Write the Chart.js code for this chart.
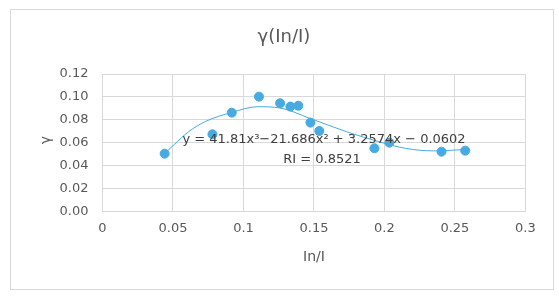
<!DOCTYPE html>
<html>
<head>
<meta charset="utf-8">
<script src="https://cdn.jsdelivr.net/npm/chart.js@4.4.1/dist/chart.umd.min.js"></script>
<style>
    html, body { margin: 0; padding: 0; background: #fff; }
    #chart { display: block; }
</style>
</head>
<body>
<canvas id="chart" width="559" height="302"></canvas>
<script>
// Data
const ratioX = [0.0441, 0.078, 0.0917, 0.111, 0.126, 0.1333, 0.1389, 0.1475, 0.1538, 0.1929, 0.2035, 0.2405, 0.2573];
const gammaY = [0.0504, 0.0673, 0.0862, 0.1002, 0.0944, 0.0915, 0.0923, 0.0775, 0.0702, 0.0551, 0.0600, 0.0521, 0.0530];

// Trendline
const trendX = [0.044, 0.051, 0.061, 0.073, 0.092, 0.110, 0.126, 0.147, 0.173, 0.197, 0.215, 0.235, 0.257];
const trendY = [0.0505, 0.0585, 0.0695, 0.0785, 0.0865, 0.0914, 0.0903, 0.0813, 0.0696, 0.0605, 0.0550, 0.0528, 0.0540];

const xTickLabels = ['0', '0.05', '0.1', '0.15', '0.2', '0.25', '0.3'];
const yTickLabels = ['0.00', '0.02', '0.04', '0.06', '0.08', '0.10', '0.12'];

const chartTitle = 'γ(In/I)';
const xTitle = 'In/I';
const yTitle = 'γ';
const equationText = 'y = 41.81x³−21.686x² + 3.2574x − 0.0602';
const r2Text = 'RI = 0.8521';

const FONT = '"DejaVu Sans", sans-serif';
const TEXT_GREY = '#595959';
const GRID_GREY = '#d9d9d9';
const BLUE = '#47abe1';

// Border, background and the extra texts
const decorPlugin = {
    id: 'decor',
    beforeDraw(chart) {
        const ctx = chart.ctx;
        ctx.save();
        ctx.fillStyle = '#fff';
        ctx.fillRect(0, 0, chart.width, chart.height);
        ctx.strokeStyle = GRID_GREY;
        ctx.lineWidth = 1;
        ctx.strokeRect(10.5, 9.5, 543, 280);
        ctx.restore();
    },
    afterDraw(chart) {
        const ctx = chart.ctx;
        ctx.save();
        ctx.textAlign = 'center';
        ctx.textBaseline = 'middle';

        // title
        ctx.fillStyle = TEXT_GREY;
        ctx.font = '18px ' + FONT;
        ctx.fillText(chartTitle, 284, 37);

        // axis titles
        ctx.font = '14px ' + FONT;
        ctx.fillText(xTitle, 314, 257);
        ctx.save();
        ctx.translate(46, 140);
        ctx.rotate(-Math.PI / 2);
        ctx.fillText(yTitle, 0, 0);
        ctx.restore();

        // trendline label
        ctx.fillStyle = '#404040';
        ctx.font = '13px ' + FONT;
        ctx.fillText(equationText, 324, 140);
        ctx.fillText(r2Text, 322, 160);
        ctx.restore();
    }
};

const ctx = document.getElementById('chart').getContext('2d');
const chart = new Chart(ctx, {
    type: 'scatter',
    data: {
        datasets: [
            {
                label: 'γ',
                data: ratioX.map((x, i) => ({ x: x, y: gammaY[i] })),
                backgroundColor: BLUE,
                borderColor: BLUE,
                pointRadius: 4.5,
                pointHoverRadius: 4.5,
                showLine: false,
                order: 1
            },
            {
                label: 'Trend',
                data: trendX.map((x, i) => ({ x: x, y: trendY[i] })),
                borderColor: BLUE,
                borderWidth: 1,
                pointRadius: 0,
                showLine: true,
                cubicInterpolationMode: 'monotone',
                order: 2
            }
        ]
    },
    options: {
        responsive: false,
        devicePixelRatio: 1,
        animation: false,
        layout: {
            padding: { left: 0, right: 33.6, top: 74, bottom: 0 }
        },
        plugins: {
            legend: { display: false },
            title: { display: false },
            tooltip: { enabled: false }
        },
        scales: {
            x: {
                type: 'linear',
                min: 0,
                max: 0.3,
                afterBuildTicks: function(scale) {
                    scale.ticks = xTickLabels.map(v => ({ value: Number(v) }));
                },
                afterFit: function(scale) {
                    scale.height = 302 - 211.3;
                },
                grid: { color: GRID_GREY, drawTicks: false },
                border: { color: GRID_GREY },
                ticks: {
                    padding: 10,
                    color: TEXT_GREY,
                    font: { family: FONT, size: 13 },
                    callback: function(value, index) {
                        return xTickLabels[index];
                    }
                }
            },
            y: {
                min: 0,
                max: 0.12,
                afterBuildTicks: function(scale) {
                    scale.ticks = yTickLabels.map(v => ({ value: Number(v) }));
                },
                afterFit: function(scale) {
                    scale.width = 102.5;
                },
                grid: { color: GRID_GREY, drawTicks: false },
                border: { color: GRID_GREY },
                ticks: {
                    padding: 14,
                    color: TEXT_GREY,
                    font: { family: FONT, size: 13 },
                    callback: function(value, index) {
                        return yTickLabels[index];
                    }
                }
            }
        }
    },
    plugins: [decorPlugin]
});
</script>
</body>
</html>
